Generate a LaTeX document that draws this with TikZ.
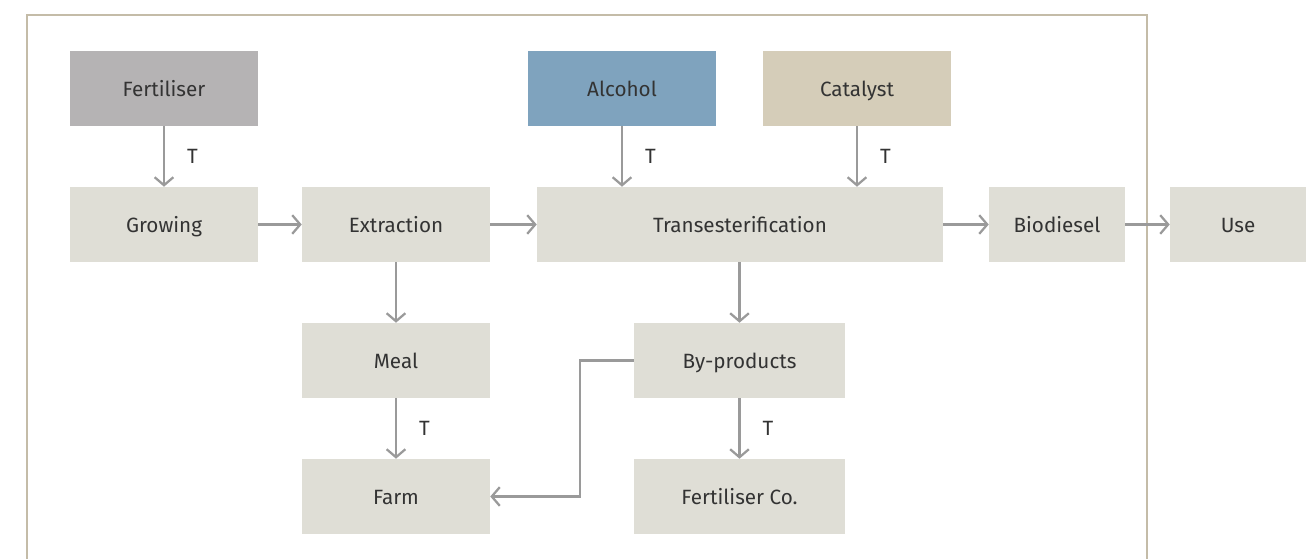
\documentclass[tikz,border=0pt]{standalone}
\usepackage{fontspec}
\setmainfont{Fira Sans}
\usetikzlibrary{arrows.meta}
\definecolor{boxGrey}{HTML}{DFDED6}
\definecolor{fertGrey}{HTML}{B5B3B4}
\definecolor{alcBlue}{HTML}{7FA3BE}
\definecolor{catSand}{HTML}{D5CDB9}
\definecolor{frameSand}{HTML}{C4BCA8}
\definecolor{arrowGrey}{HTML}{9A9A9A}
\definecolor{textGrey}{HTML}{333333}
\newcommand*{\pxUnit}{0.75pt}
\newcommand*{\stage}[6]{% name, xcentre, ycentre, width, text, fill
    \node [stage, fill=#6, minimum width=#4*\pxUnit] (#1) at (#2,#3) {#5};
}
\tikzset{
    stage/.style={rectangle, draw=none, minimum height=75*\pxUnit, inner sep=0pt,
        text height=15.5pt, text depth=3pt,
        text=textGrey, font=\fontsize{15.5}{17}\selectfont},
    flow/.style={draw=arrowGrey, line width=1.7pt,
        -{Straight Barb[length=6pt, width=14pt, line width=1.7pt]}},
    tlabel/.style={text=textGrey, font=\fontsize{15.5}{17}\selectfont, right, inner sep=0pt}
}

\begin{document}
\begin{tikzpicture}[x=\pxUnit, y=-\pxUnit] {
\useasboundingbox (0,0) rectangle (1310,559);
% frame, open at the bottom
\draw [frameSand, line width=1.5pt] (27,559) -- (27,15) -- (1147,15) -- (1147,559);
% top row
\stage{fertiliser}{164}{88.5}{188}{Fertiliser}{fertGrey}
\stage{alcohol}{622}{88.5}{188}{Alcohol}{alcBlue}
\stage{catalyst}{857}{88.5}{188}{Catalyst}{catSand}
% main line
\stage{growing}{164}{224.5}{188}{Growing}{boxGrey}
\stage{extraction}{396}{224.5}{188}{Extraction}{boxGrey}
\stage{trans}{740}{224.5}{406}{Transesterification}{boxGrey}
\stage{biodiesel}{1057}{224.5}{136}{Biodiesel}{boxGrey}
\stage{use}{1238}{224.5}{136}{Use}{boxGrey}
% by-streams
\stage{meal}{396}{360.5}{188}{Meal}{boxGrey}
\stage{byproducts}{739.5}{360.5}{211}{By-products}{boxGrey}
\stage{farm}{396}{496.5}{188}{Farm}{boxGrey}
\stage{fertco}{739.5}{496.5}{211}{Fertiliser Co.}{boxGrey}
% connectors
\draw [flow] (fertiliser) -- node [tlabel, xshift=22*\pxUnit] {T} (growing);
\draw [flow] (alcohol) -- node [tlabel, xshift=22*\pxUnit] {T} (alcohol |- trans.north);
\draw [flow] (catalyst) -- node [tlabel, xshift=22*\pxUnit] {T} (catalyst |- trans.north);
\draw [flow] (growing) -- (extraction);
\draw [flow] (extraction) -- (trans);
\draw [flow] (trans) -- (biodiesel);
\draw [flow] (biodiesel) -- (use);
\draw [flow] (extraction) -- (meal);
\draw [flow] (trans.south -| byproducts) -- (byproducts);
\draw [flow] (meal) -- node [tlabel, xshift=22*\pxUnit] {T} (farm);
\draw [flow] (byproducts) -- node [tlabel, xshift=22*\pxUnit] {T} (fertco);
\draw [flow] (byproducts.west) -- (580,360.5) -- (580,496.5) -- (farm.east);
}\end{tikzpicture}
\end{document}
